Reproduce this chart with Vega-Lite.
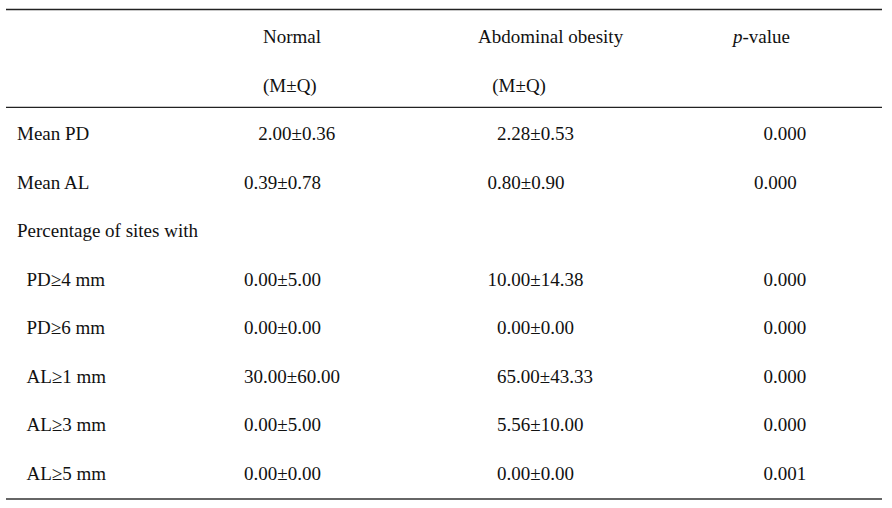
{
  "$schema": "https://vega.github.io/schema/vega-lite/v6.json",
  "autosize": "none",
  "width": 876,
  "height": 508,
  "padding": {"left": 6, "top": 0, "right": 10, "bottom": 0},
  "background": "white",
  "config": {"view": {"stroke": null}},
  "resolve": {"scale": {"y": "independent"}},
  "datasets": {
    "table": [
      {"id": "h1", "label": "", "normal": "\u200b\u00a0\u00a0\u00a0\u00a0Normal", "abdominal": "Abdominal obesity", "p": ""},
      {"id": "h2", "label": "", "normal": "\u200b\u00a0\u00a0\u00a0\u00a0(M±Q)", "abdominal": "\u200b\u00a0\u00a0\u00a0(M±Q)", "p": ""},
      {"id": "r1", "label": "Mean PD", "normal": "\u200b\u00a0\u00a0\u00a02.00±0.36", "abdominal": "\u200b\u00a0\u00a0\u00a0\u00a02.28±0.53", "p": "\u200b\u00a0\u00a0\u00a0\u00a0\u00a0\u00a00.000"},
      {"id": "r2", "label": "Mean AL", "normal": "0.39±0.78", "abdominal": "\u200b\u00a0\u00a00.80±0.90", "p": "\u200b\u00a0\u00a0\u00a0\u00a00.000"},
      {"id": "r3", "label": "Percentage of sites with", "normal": "", "abdominal": "", "p": ""},
      {"id": "r4", "label": "\u200b\u00a0\u00a0PD≥4 mm", "normal": "0.00±5.00", "abdominal": "\u200b\u00a0\u00a010.00±14.38", "p": "\u200b\u00a0\u00a0\u00a0\u00a0\u00a0\u00a00.000"},
      {"id": "r5", "label": "\u200b\u00a0\u00a0PD≥6 mm", "normal": "0.00±0.00", "abdominal": "\u200b\u00a0\u00a0\u00a0\u00a00.00±0.00", "p": "\u200b\u00a0\u00a0\u00a0\u00a0\u00a0\u00a00.000"},
      {"id": "r6", "label": "\u200b\u00a0\u00a0AL≥1 mm", "normal": "30.00±60.00", "abdominal": "\u200b\u00a0\u00a0\u00a0\u00a065.00±43.33", "p": "\u200b\u00a0\u00a0\u00a0\u00a0\u00a0\u00a00.000"},
      {"id": "r7", "label": "\u200b\u00a0\u00a0AL≥3 mm", "normal": "0.00±5.00", "abdominal": "\u200b\u00a0\u00a0\u00a0\u00a05.56±10.00", "p": "\u200b\u00a0\u00a0\u00a0\u00a0\u00a0\u00a00.000"},
      {"id": "r8", "label": "\u200b\u00a0\u00a0AL≥5 mm", "normal": "0.00±0.00", "abdominal": "\u200b\u00a0\u00a0\u00a0\u00a00.00±0.00", "p": "\u200b\u00a0\u00a0\u00a0\u00a0\u00a0\u00a00.001"}
    ],
    "columns": [
      {"col": "label", "idx": 0},
      {"col": "normal", "idx": 1},
      {"col": "abdominal", "idx": 2},
      {"col": "p", "idx": 3}
    ],
    "pheader": [{"id": "h1", "idx": 3, "italic": "p", "rest": "-value"}],
    "toprules": [{"id": "h1"}, {"id": "r1"}],
    "bottomrule": [{"id": "r8"}]
  },
  "layer": [
    {
      "data": {"name": "table"},
      "transform": [
        {"fold": ["label", "normal", "abdominal", "p"], "as": ["col", "text"]},
        {"filter": "datum.text != ''"},
        {"lookup": "col", "from": {"data": {"name": "columns"}, "key": "col", "fields": ["idx"]}}
      ],
      "mark": {"type": "text", "align": "left", "baseline": "alphabetic", "dy": 7.8, "font": "Liberation Serif", "fontSize": 19, "color": "#111"},
      "encoding": {
        "x": {"field": "idx", "type": "quantitative", "scale": {"type": "linear", "domain": [0, 1, 2, 3], "range": [11, 238, 472, 729], "zero": false, "nice": false}, "axis": null},
        "y": {"field": "id", "type": "nominal", "scale": {"type": "band", "domain": ["h1", "h2", "r1", "r2", "r3", "r4", "r5", "r6", "r7", "r8"], "range": [10.9, 496.5], "paddingInner": 0, "paddingOuter": 0}, "axis": null},
        "text": {"field": "text"}
      }
    },
    {
      "data": {"name": "pheader"},
      "mark": {"type": "text", "align": "left", "baseline": "alphabetic", "dy": 7.8, "dx": -2, "font": "Liberation Serif", "fontSize": 19, "fontStyle": "italic", "color": "#111"},
      "encoding": {
        "x": {"field": "idx", "type": "quantitative"},
        "y": {"field": "id", "type": "nominal", "scale": {"type": "band", "domain": ["h1", "h2", "r1", "r2", "r3", "r4", "r5", "r6", "r7", "r8"], "range": [10.9, 496.5], "paddingInner": 0, "paddingOuter": 0}, "axis": null},
        "text": {"field": "italic"}
      }
    },
    {
      "data": {"name": "pheader"},
      "mark": {"type": "text", "align": "left", "baseline": "alphabetic", "dy": 7.8, "dx": 7.5, "font": "Liberation Serif", "fontSize": 19, "color": "#111"},
      "encoding": {
        "x": {"field": "idx", "type": "quantitative"},
        "y": {"field": "id", "type": "nominal", "scale": {"type": "band", "domain": ["h1", "h2", "r1", "r2", "r3", "r4", "r5", "r6", "r7", "r8"], "range": [10.9, 496.5], "paddingInner": 0, "paddingOuter": 0}, "axis": null},
        "text": {"field": "rest"}
      }
    },
    {
      "data": {"name": "toprules"},
      "mark": {"type": "rule", "color": "#222", "strokeWidth": 1.4},
      "encoding": {
        "y": {"field": "id", "type": "nominal", "bandPosition": 0, "scale": {"type": "band", "domain": ["h1", "h2", "r1", "r2", "r3", "r4", "r5", "r6", "r7", "r8"], "range": [9.5, 499], "paddingInner": 0, "paddingOuter": 0}, "axis": null}
      }
    },
    {
      "data": {"name": "bottomrule"},
      "mark": {"type": "rule", "color": "#333", "strokeWidth": 1.5},
      "encoding": {
        "y": {"field": "id", "type": "nominal", "bandPosition": 1, "scale": {"type": "band", "domain": ["h1", "h2", "r1", "r2", "r3", "r4", "r5", "r6", "r7", "r8"], "range": [9.5, 499], "paddingInner": 0, "paddingOuter": 0}, "axis": null}
      }
    }
  ]
}
